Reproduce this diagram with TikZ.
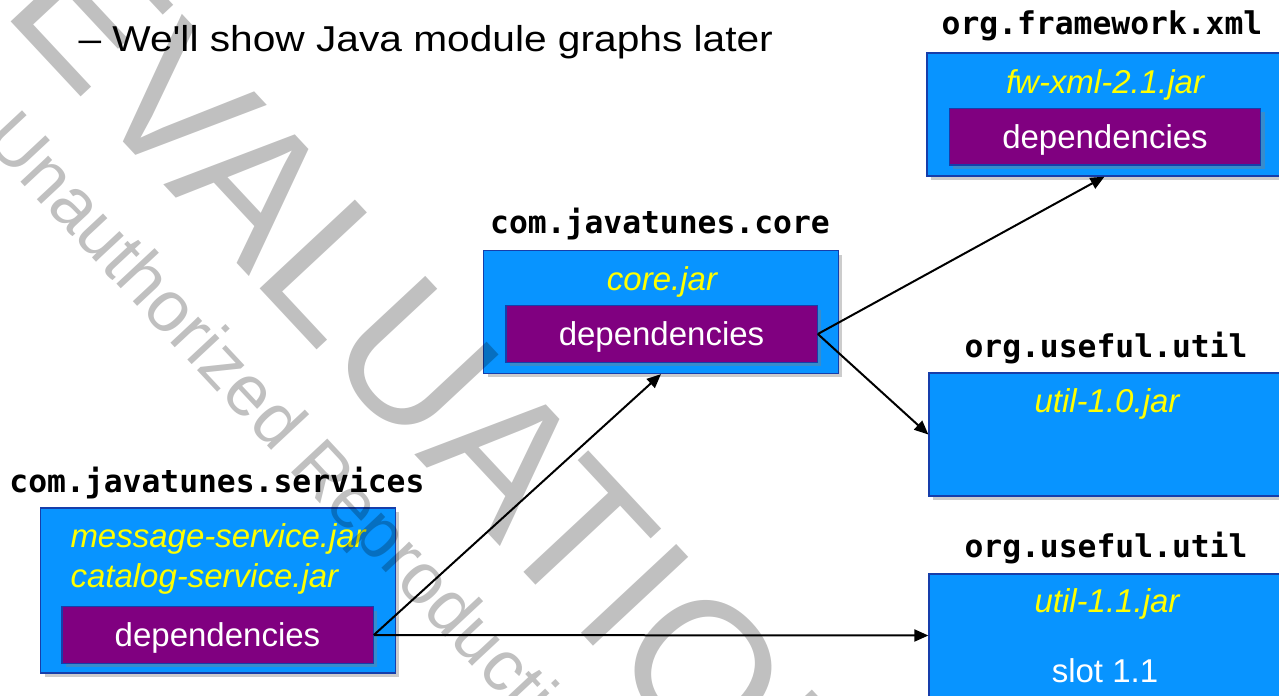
\documentclass[tikz,border=0pt]{standalone}
\usepackage{fontspec}
\setmainfont{Liberation Sans}
\newfontfamily\labelfont{DejaVu Sans Mono}
\usetikzlibrary{arrows.meta,shadows}

\definecolor{boxblue}{RGB}{8,148,255}
\definecolor{boxedge}{RGB}{22,62,170}
\definecolor{deppurple}{RGB}{128,0,128}
\definecolor{jaryellow}{RGB}{255,255,0}
\definecolor{markgray}{RGB}{192,192,192}

\tikzset{every picture/.style={line width=0.75pt}}
\tikzset{
  modbox/.style={draw=boxedge, line width=1.2pt, fill=boxblue, inner sep=0pt,
    minimum width=266pt, minimum height=92pt,
    drop shadow={shadow xshift=3pt, shadow yshift=-3pt, opacity=0.4}},
  depbox/.style={draw=boxedge, line width=1pt, fill=deppurple, inner sep=0pt,
    minimum width=233.5pt, minimum height=42.5pt, text=white, text depth=0pt,
    font=\fontsize{24.75}{29}\selectfont,
    drop shadow={shadow xshift=3pt, shadow yshift=-3pt, opacity=0.4}},
  modlabel/.style={anchor=base, inner sep=0pt, font=\labelfont\bfseries\fontsize{23.5}{28}\selectfont},
  jartext/.style={anchor=base, inner sep=0pt, text=jaryellow, font=\fontsize{24.75}{29}\selectfont\itshape},
  slottext/.style={anchor=base, inner sep=0pt, text=white, font=\fontsize{24.75}{29}\selectfont},
  deparrow/.style={-{Triangle[length=10.5pt,width=9pt]}, line width=1.5pt},
  watermark/.style={anchor=base west, inner sep=0pt, text=markgray, rotate=-47}
}

\begin{document}
\begin{tikzpicture}[x=0.75pt,y=0.75pt,yscale=-1,xscale=1]
\useasboundingbox (0,0) rectangle (1279,696);
\clip (0,0) rectangle (1279,696);

% Text Node
\node [anchor=base west, inner sep=0pt, font=\fontsize{27}{32}\selectfont] (intro) at (78,51) {\scalebox{1.13}[1]{-- We\textquotesingle ll show Java module graphs later}};

%Shape: Rectangle
\node [modbox] (fw) at (1104.5,114.5) {};
\node [depbox] (fwdep) at (1105,136.5) {dependencies};
%Shape: Rectangle
\node [modbox] (core) at (661,312) {};
\node [depbox] (coredep) at (661.5,334) {dependencies};
%Shape: Rectangle
\node [modbox] (util10) at (1106.5,434.5) {};
%Shape: Rectangle
\node [modbox] (util11) at (1106.5,635.5) {};
%Shape: Rectangle
\node [modbox, minimum height=124pt] (svc) at (218,590.5) {};
\node [depbox] (svcdep) at (217.5,635) {dependencies};

% Text Node
\node [modlabel] (fwlabel) at (1102,35) {org.framework.xml};
% Text Node
\node [modlabel] (corelabel) at (660,233) {com.javatunes.core};
% Text Node
\node [modlabel] (util10label) at (1106,357) {org.useful.util};
% Text Node
\node [modlabel] (util11label) at (1106,557) {org.useful.util};
% Text Node
\node [modlabel] (svclabel) at (217,492) {com.javatunes.services};

% Text Node
\node [jartext] (fwjar) at (1105,93) {fw-xml-2.1.jar};
% Text Node
\node [jartext] (corejar) at (662,290) {core.jar};
% Text Node
\node [jartext] (util10jar) at (1107,412) {util-1.0.jar};
% Text Node
\node [jartext] (util11jar) at (1107,612) {util-1.1.jar};
% Text Node
\node [jartext, anchor=base west] (msgjar) at (70,547) {message-service.jar};
% Text Node
\node [jartext, anchor=base west] (catjar) at (70,587) {catalog-service.jar};
% Text Node
\node [slottext] (slot) at (1105,682) {slot 1.1};

%Straight Lines
\draw [deparrow] (svcdep.east) -- (core.south);
\draw [deparrow] (svcdep.east) -- (util11.west);
\draw [deparrow] (coredep.east) -- (fw.south);
\draw [deparrow] (coredep.east) -- (util10.west);

% watermark
\begin{scope}[blend mode=multiply]
\node [watermark, font=\fontsize{142}{142}\selectfont] (evalmark) at (0,10) {EVALUATION};
\node [watermark, font=\fontsize{54}{54}\selectfont] (reprmark) at (-18,140) {Unauthorized Reproduction};
\end{scope}

\end{tikzpicture}
\end{document}
